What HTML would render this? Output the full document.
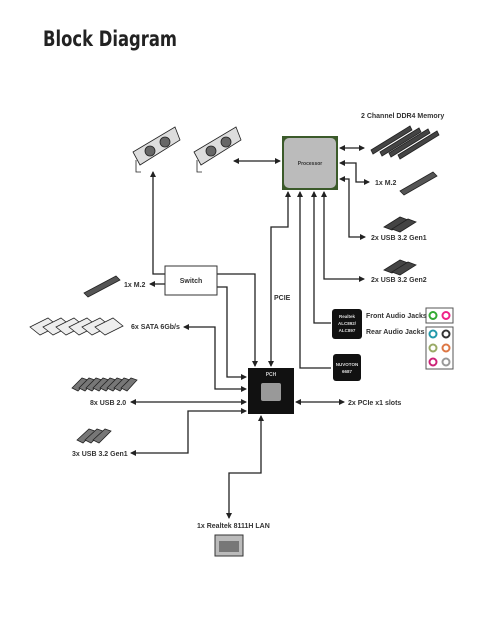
<!DOCTYPE html>
<html><head><style>
body{margin:0;background:#fff;width:493px;height:617px;overflow:hidden}
svg{display:block}
text{font-family:"Liberation Sans",sans-serif;font-weight:bold;fill:#333;font-size:7px}
</style></head><body>
<svg width="493" height="617" viewBox="0 0 493 617">
<defs>
<marker id="a" markerWidth="6" markerHeight="6" refX="5" refY="3" orient="auto-start-reverse" markerUnits="userSpaceOnUse"><path d="M0,0L6,3L0,6z" fill="#222"/></marker>
</defs>
<text x="43" y="46" textLength="134" lengthAdjust="spacingAndGlyphs" style="font-size:21px;fill:#222;font-family:'DejaVu Sans','Liberation Sans',sans-serif">Block Diagram</text>

<g stroke="#222" stroke-width="1.3" fill="none">
<line x1="234" y1="161" x2="280" y2="161" marker-start="url(#a)" marker-end="url(#a)"/>
<polyline points="165,274 153,274 153,172" marker-end="url(#a)"/>
<line x1="340" y1="148" x2="364" y2="148" marker-start="url(#a)" marker-end="url(#a)"/>
<polyline points="369,182 356,182 356,163 340,163" marker-start="url(#a)" marker-end="url(#a)"/>
<polyline points="365,237 349,237 349,179 340,179" marker-start="url(#a)" marker-end="url(#a)"/>
<polyline points="271,366 271,227 288,227 288,192" marker-start="url(#a)" marker-end="url(#a)"/>
<polyline points="331,368 300,368 300,192" marker-end="url(#a)"/>
<polyline points="331,323 314,323 314,192" marker-end="url(#a)"/>
<polyline points="364,279 324,279 324,192" marker-start="url(#a)" marker-end="url(#a)"/>
<polyline points="217,274 255,274 255,366" marker-end="url(#a)"/>
<polyline points="217,287 227,287 227,377 246,377" marker-end="url(#a)"/>
<line x1="165" y1="284" x2="150" y2="284" marker-end="url(#a)"/>
<polyline points="184,327 215,327 215,389 246,389" marker-start="url(#a)" marker-end="url(#a)"/>
<line x1="131" y1="402" x2="246" y2="402" marker-start="url(#a)" marker-end="url(#a)"/>
<polyline points="131,453 188,453 188,411 246,411" marker-start="url(#a)" marker-end="url(#a)"/>
<line x1="296" y1="402" x2="344" y2="402" marker-start="url(#a)" marker-end="url(#a)"/>
<polyline points="261,416 261,473 229,473 229,518" marker-start="url(#a)" marker-end="url(#a)"/>
</g>

<rect x="282" y="136" width="56" height="54" fill="#3b5a2a"/>
<rect x="284" y="138" width="52" height="50" rx="5" fill="#bbb"/>
<text x="310" y="165" text-anchor="middle" style="font-size:5px">Processor</text>
<rect x="165" y="266" width="52" height="29" fill="#fff" stroke="#333"/>
<text x="191" y="283" text-anchor="middle">Switch</text>
<text x="274" y="300" style="font-size:7px">PCIE</text>
<rect x="248" y="368" width="46" height="46" fill="#111"/>
<text x="271" y="376" text-anchor="middle" style="font-size:5px;fill:#ccc">PCH</text>
<rect x="261" y="383" width="20" height="18" rx="2" fill="#999"/>
<rect x="332" y="309" width="30" height="30" rx="3" fill="#111"/>
<text x="347" y="318" text-anchor="middle" style="font-size:4.5px;fill:#ddd">Realtek</text>
<text x="347" y="325" text-anchor="middle" style="font-size:4.5px;fill:#ddd">ALC892/</text>
<text x="347" y="332" text-anchor="middle" style="font-size:4.5px;fill:#ddd">ALC897</text>
<rect x="333" y="354" width="28" height="27" rx="3" fill="#111"/>
<text x="347" y="366" text-anchor="middle" style="font-size:4.5px;fill:#ddd">NUVOTON</text>
<text x="347" y="373" text-anchor="middle" style="font-size:4.5px;fill:#ddd">6687</text>

<rect x="426" y="308" width="27" height="15" fill="#fff" stroke="#555"/>
<circle cx="433" cy="315.5" r="3.5" fill="none" stroke="#3a3" stroke-width="2"/>
<circle cx="446" cy="315.5" r="3.5" fill="none" stroke="#e28" stroke-width="2"/>
<rect x="426" y="327" width="27" height="42" fill="#fff" stroke="#555"/>
<circle cx="433" cy="334" r="3.5" fill="none" stroke="#29a" stroke-width="2"/>
<circle cx="446" cy="334" r="3.5" fill="none" stroke="#333" stroke-width="2"/>
<circle cx="433" cy="348" r="3.5" fill="none" stroke="#9a6" stroke-width="2"/>
<circle cx="446" cy="348" r="3.5" fill="none" stroke="#d74" stroke-width="2"/>
<circle cx="433" cy="362" r="3.5" fill="none" stroke="#c27" stroke-width="2"/>
<circle cx="446" cy="362" r="3.5" fill="none" stroke="#999" stroke-width="2"/>

<text x="361" y="118">2 Channel DDR4 Memory</text>
<text x="375" y="185">1x M.2</text>
<text x="371" y="240">2x USB 3.2 Gen1</text>
<text x="371" y="282">2x USB 3.2 Gen2</text>
<text x="366" y="318">Front Audio Jacks</text>
<text x="366" y="334">Rear Audio Jacks</text>
<text x="124" y="287">1x M.2</text>
<text x="131" y="329">6x SATA 6Gb/s</text>
<text x="90" y="405">8x USB 2.0</text>
<text x="72" y="456">3x USB 3.2 Gen1</text>
<text x="348" y="405">2x PCIe x1 slots</text>
<text x="197" y="528">1x Realtek 8111H LAN</text>

<rect x="215" y="535" width="28" height="21" fill="#bbb" stroke="#333"/>
<rect x="219" y="541" width="20" height="11" fill="#777"/>

<g fill="#444" stroke="#222" stroke-width="0.8">
<path d="M133,152 L175,127 L180,140 L140,165z" fill="#ddd"/>
<path d="M136,160 L136,172 L141,172" fill="none"/>
<circle cx="150" cy="151" r="5" fill="#666"/><circle cx="165" cy="142" r="5" fill="#666"/>
<path d="M194,152 L236,127 L241,140 L201,165z" fill="#ddd"/>
<path d="M197,160 L197,172 L202,172" fill="none"/>
<circle cx="211" cy="151" r="5" fill="#666"/><circle cx="226" cy="142" r="5" fill="#666"/>
<path d="M371,150 L410,126 L412,130 L373,154z"/>
<path d="M380,152 L419,128 L421,132 L382,156z"/>
<path d="M389,153 L428,129 L430,133 L391,157z"/>
<path d="M398,155 L437,131 L439,135 L400,159z"/>
<path d="M400,191 L433,172 L437,176 L404,195z" fill="#555"/>
<path d="M84,293 L116,276 L120,280 L88,297z" fill="#555"/>
<path d="M384,227 L400,217 L408,220 L392,230z"/><path d="M392,229 L408,219 L416,222 L400,232z"/>
<path d="M384,270 L400,260 L408,263 L392,273z"/><path d="M392,272 L408,262 L416,265 L400,275z"/>
<g fill="#eee">
<path d="M30,327 L48,318 L58,326 L40,335z"/>
<path d="M43,327 L61,318 L71,326 L53,335z"/>
<path d="M56,327 L74,318 L84,326 L66,335z"/>
<path d="M69,327 L87,318 L97,326 L79,335z"/>
<path d="M82,327 L100,318 L110,326 L92,335z"/>
<path d="M95,327 L113,318 L123,326 L105,335z"/>
</g>
<g fill="#777">
<path d="M72,388 L82,378 L88,380 L78,391z"/><path d="M79,388 L89,378 L95,380 L85,391z"/>
<path d="M86,388 L96,378 L102,380 L92,391z"/><path d="M93,388 L103,378 L109,380 L99,391z"/>
<path d="M100,388 L110,378 L116,380 L106,391z"/><path d="M107,388 L117,378 L123,380 L113,391z"/>
<path d="M114,388 L124,378 L130,380 L120,391z"/><path d="M121,388 L131,378 L137,380 L127,391z"/>
<path d="M77,440 L89,429 L95,431 L83,443z"/><path d="M85,440 L97,429 L103,431 L91,443z"/><path d="M93,440 L105,429 L111,431 L99,443z"/>
</g>
</g>
</svg>
</body></html>
